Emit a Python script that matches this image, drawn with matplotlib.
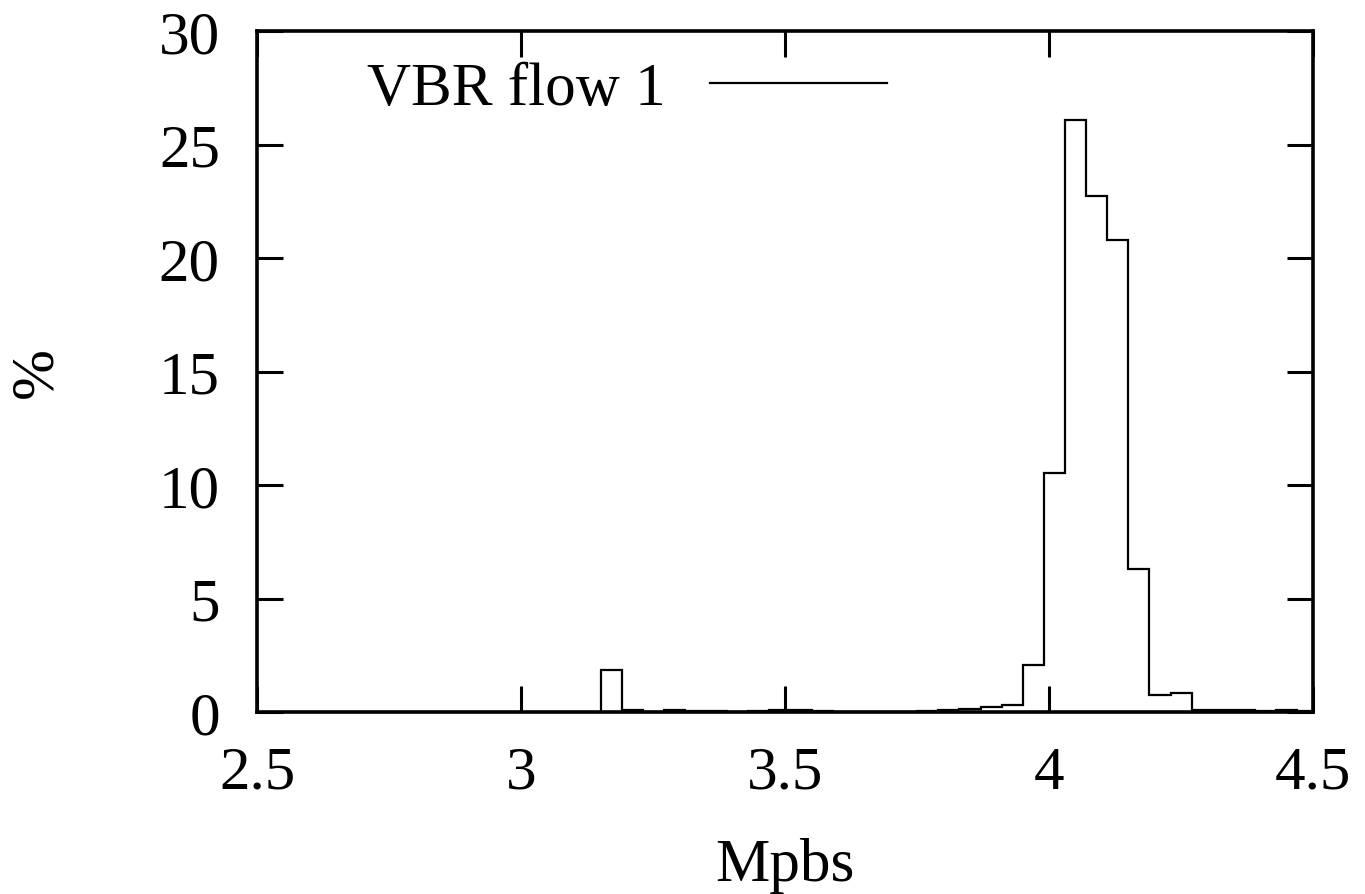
import numpy as np
import matplotlib
matplotlib.use("Agg")
import matplotlib.pyplot as plt
from matplotlib.lines import Line2D

# 値は図から読み取り（ビン幅 0.04 Mbps、単位 %）
bin_left = [3.15, 3.19, 3.23, 3.27, 3.31, 3.35, 3.39, 3.43, 3.47, 3.51,
            3.55, 3.59, 3.63, 3.67, 3.71, 3.75, 3.79, 3.83, 3.87, 3.91,
            3.95, 3.99, 4.03, 4.07, 4.11, 4.15, 4.19, 4.23, 4.27, 4.31,
            4.35, 4.39, 4.43, 4.47]
percent = [1.85, 0.08, 0.02, 0.08, 0.03, 0.03, 0.02, 0.06, 0.08, 0.08,
           0.03, 0.02, 0.02, 0.02, 0.02, 0.05, 0.10, 0.15, 0.22, 0.30,
           2.08, 10.55, 26.1, 22.75, 20.8, 6.3, 0.75, 0.83, 0.08, 0.08,
           0.08, 0.04, 0.08, 0.03]
bin_width = 0.04
series_label = "VBR flow 1"
xticks = [2.5, 3, 3.5, 4, 4.5]
xticklabels = ["2.5", "3", "3.5", "4", "4.5"]
yticks = [0, 5, 10, 15, 20, 25, 30]

plt.rcParams["font.family"] = ["Liberation Serif", "DejaVu Serif"]
plt.rcParams["font.size"] = 44

fig = plt.figure(figsize=(13.65, 8.95), dpi=100)
ax = fig.add_axes([0.1886, 0.2034, 0.7734, 0.7606])

# ステップ状のヒストグラム（gnuplot の histeps 風）
edges = list(bin_left) + [bin_left[-1] + bin_width]
ax.stairs(percent, edges, baseline=0, color="black", linewidth=1.6)

ax.set_xlim(2.5, 4.5)
ax.set_ylim(0, 30)
ax.set_xticks(xticks)
ax.set_xticklabels(xticklabels)
ax.set_yticks(yticks)

for s in ax.spines.values():
    s.set_linewidth(2.6)
ax.tick_params(direction="in", length=19, width=2.2, top=True, right=True)
ax.tick_params(axis="x", pad=24)
ax.tick_params(axis="y", pad=27)

ax.set_xlabel("Mpbs")
ax.xaxis.set_label_coords(0.5, -0.183)
ax.set_ylabel("%")
ax.yaxis.set_label_coords(-0.183, 0.5)

# 凡例（テキストが左、線見本が右）
ax.legend(handles=[Line2D([], [], color="black", linewidth=1.6)], labels=[series_label],
          loc="center", bbox_to_anchor=(0.35, 0.915), frameon=False,
          markerfirst=False, handlelength=2.9, handletextpad=0.72, borderpad=0)

fig.savefig("out.png", dpi=100)
